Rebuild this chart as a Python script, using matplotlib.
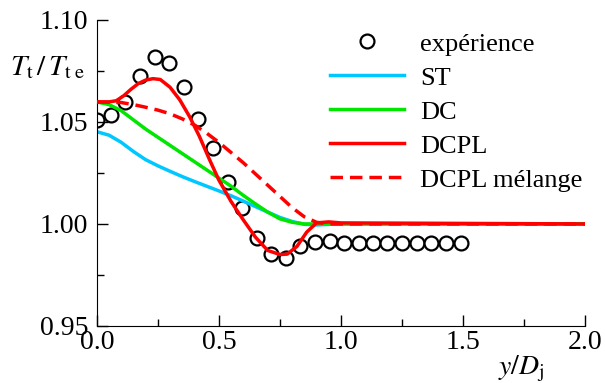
import numpy as np
import matplotlib
matplotlib.use("Agg")
import matplotlib.pyplot as plt

plt.rcParams["font.family"] = "Liberation Serif"
plt.rcParams["mathtext.fontset"] = "stix"

# experiment (open circles)
x_exp = [0.0, 0.057, 0.115, 0.176, 0.238, 0.295, 0.357, 0.414, 0.475, 0.537,
         0.594, 0.656, 0.713, 0.775, 0.832, 0.893, 0.955, 1.013, 1.073, 1.13,
         1.19, 1.25, 1.31, 1.37, 1.43, 1.49]
y_exp = [1.051, 1.0534, 1.060, 1.0725, 1.082, 1.079, 1.067, 1.0515, 1.037, 1.0206,
         1.0078, 0.993, 0.9855, 0.9835, 0.989, 0.991, 0.9917, 0.9905, 0.9907, 0.9907,
         0.9907, 0.9907, 0.9907, 0.9907, 0.9907, 0.9907]

# ST
x_st = [0.0, 0.05, 0.1, 0.15, 0.2, 0.25, 0.3, 0.35, 0.4, 0.45, 0.5, 0.55, 0.6,
        0.65, 0.7, 0.75, 0.8, 0.85, 0.9, 0.95, 1.0, 2.0]
y_st = [1.0452, 1.0435, 1.0400, 1.0355, 1.0315, 1.0285, 1.0258, 1.0232, 1.0208,
        1.0185, 1.0162, 1.0138, 1.0112, 1.0085, 1.0058, 1.0032, 1.0012, 0.9998,
        0.9995, 0.9998, 1.0, 1.0]

# DC
x_dc = [0.0, 0.05, 0.1, 0.15, 0.2, 0.25, 0.3, 0.35, 0.4, 0.45, 0.5, 0.55, 0.6,
        0.65, 0.7, 0.75, 0.8, 0.85, 2.0]
y_dc = [1.0598, 1.0585, 1.0555, 1.0510, 1.0465, 1.0425, 1.0385, 1.0345, 1.0305,
        1.0265, 1.0225, 1.0185, 1.0140, 1.0098, 1.0058, 1.0025, 1.0008, 1.0, 1.0]

# DCPL
x_dcpl = [0.0, 0.05, 0.08, 0.11, 0.14, 0.17, 0.2, 0.23, 0.26, 0.3, 0.34, 0.38,
          0.42, 0.46, 0.5, 0.55, 0.6, 0.65, 0.7, 0.75, 0.78, 0.82, 0.86, 0.9,
          0.95, 1.0, 2.0]
y_dcpl = [1.0598, 1.0598, 1.0604, 1.0628, 1.0660, 1.0688, 1.0705, 1.0712, 1.0708,
          1.0670, 1.0608, 1.0526, 1.0430, 1.0320, 1.0215, 1.0110, 1.0020, 0.9935,
          0.9870, 0.9850, 0.9852, 0.9890, 0.9960, 1.0005, 1.0010, 1.0005, 1.0]

# DCPL melange
x_mel = [0.0, 0.1, 0.15, 0.2, 0.25, 0.3, 0.35, 0.4, 0.45, 0.5, 0.55, 0.6, 0.65,
         0.7, 0.75, 0.8, 0.85, 0.9, 0.95, 2.0]
y_mel = [1.0598, 1.0595, 1.0585, 1.0572, 1.0558, 1.0540, 1.0515, 1.0485, 1.0445,
         1.0400, 1.0350, 1.0300, 1.0245, 1.0190, 1.0135, 1.0080, 1.0035, 1.0008,
         1.0, 1.0]

fig = plt.figure(figsize=(6.05, 3.83), dpi=100)
ax = fig.add_axes([0.160, 0.149, 0.807, 0.799])

ax.plot(x_exp, y_exp, "o", mfc="white", mec="black", ms=10, mew=1.6,
        label="expérience", zorder=1)
ax.plot(x_st, y_st, color="#00c8ff", lw=2.5, label="ST")
ax.plot(x_dc, y_dc, color="#00e600", lw=2.5, label="DC")
ax.plot(x_dcpl, y_dcpl, color="#ff0000", lw=2.5, label="DCPL", zorder=4)
ax.plot(x_mel, y_mel, color="#ff0000", lw=2.5, ls=(0, (3.6, 2.0)),
        label="DCPL mélange", zorder=3)

ax.set_xlim(0, 2.0)
ax.set_ylim(0.95, 1.10)
ax.set_xticks([0.0, 0.5, 1.0, 1.5, 2.0])
ax.set_xticks([0.25, 0.75, 1.25, 1.75], minor=True)
ax.set_yticks([0.95, 1.00, 1.05, 1.10])
ax.set_yticks([0.975, 1.025, 1.075], minor=True)
ax.set_xticklabels(["0.0", "0.5", "1.0", "1.5", "2.0"])
ax.set_yticklabels(["0.95", "1.00", "1.05", "1.10"])
ax.tick_params(which="both", direction="in", labelsize=20, width=1.0)
ax.tick_params(which="major", length=8)
ax.tick_params(axis="x", which="major", pad=3)
ax.tick_params(axis="y", which="major", pad=6)
ax.tick_params(which="minor", length=5)
for s in ["top", "right"]:
    ax.spines[s].set_visible(False)

ax.text(-0.178, 0.843, r"$T_{\mathrm{t}}\,/\,T_{\mathrm{t\;e}}$", transform=ax.transAxes,
        fontsize=21, ha="left", va="center")
ax.text(0.822, -0.09, r"$y/D_{\mathrm{j}}$", transform=ax.transAxes,
        fontsize=20, ha="left", va="top")

ax.legend(loc="upper right", bbox_to_anchor=(1.027, 1.012), frameon=False,
          fontsize=19, handlelength=2.8, handletextpad=0.6, labelspacing=0.4,
          borderaxespad=0.2)

fig.savefig("out.png", dpi=100)
